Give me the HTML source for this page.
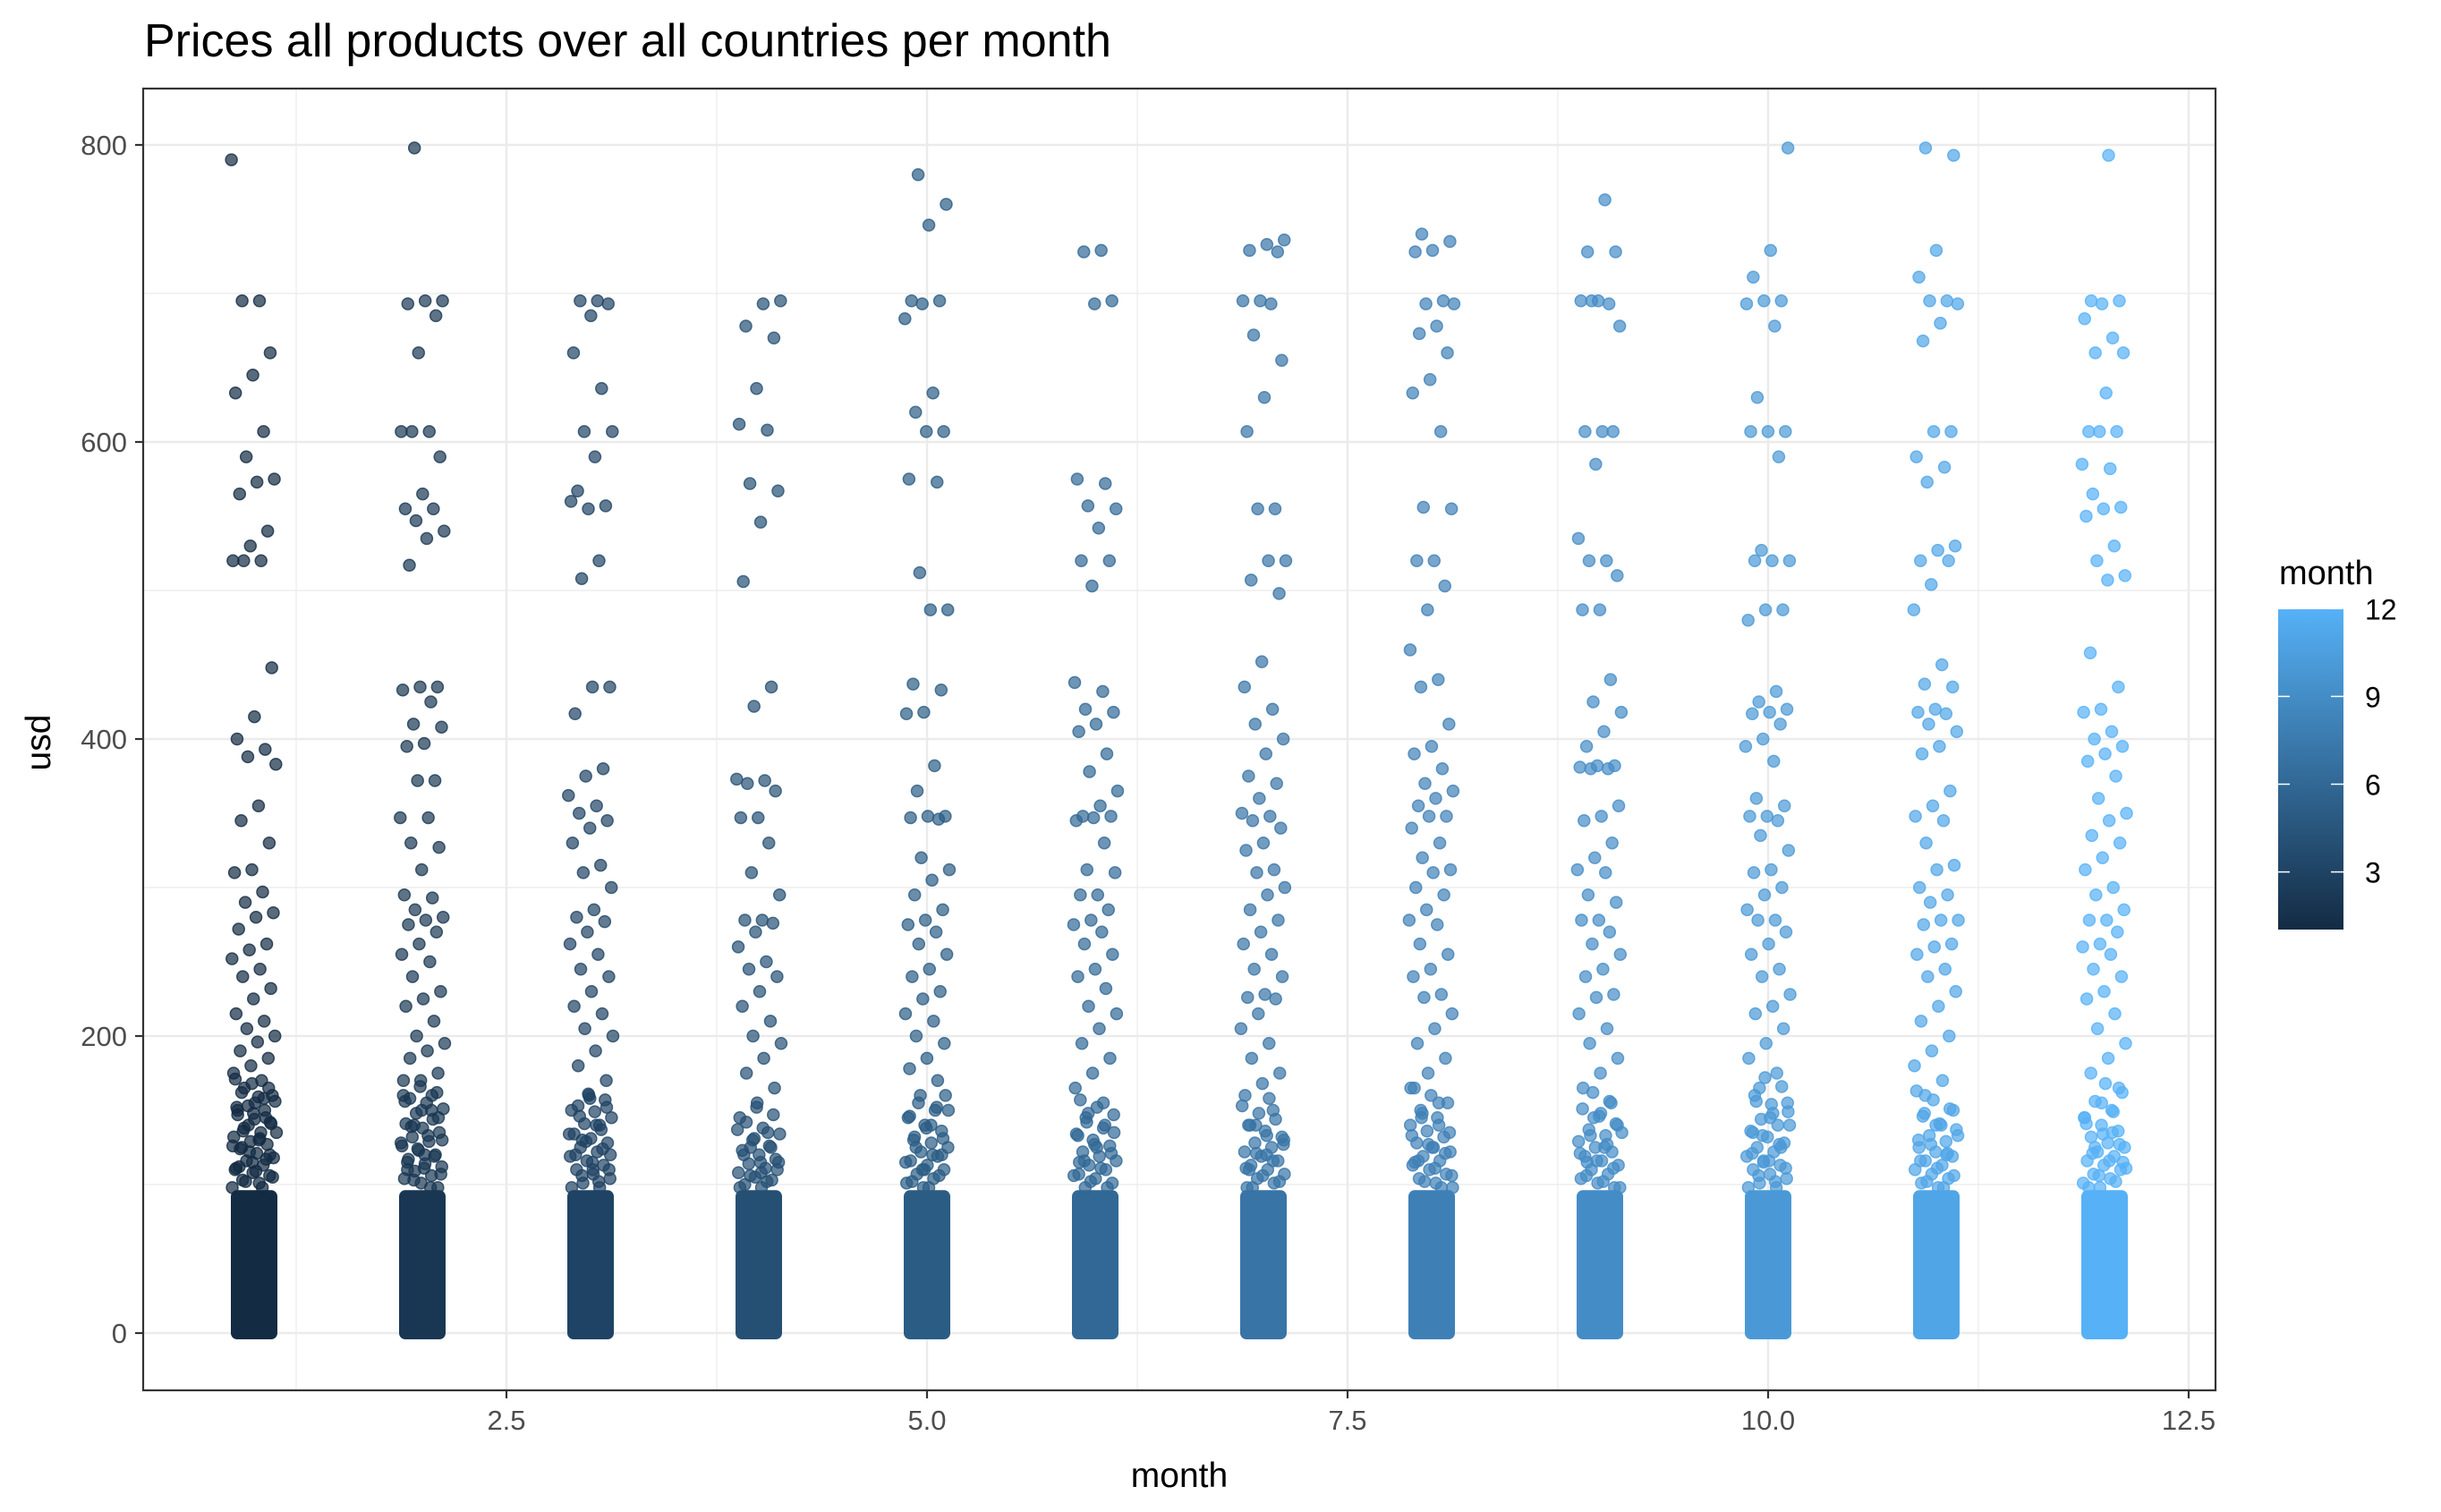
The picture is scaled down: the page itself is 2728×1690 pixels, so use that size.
<!DOCTYPE html>
<html><head><meta charset="utf-8"><style>
html,body{margin:0;padding:0;background:#fff;}
svg{display:block;font-family:"Liberation Sans",Arial,sans-serif;}
</style></head><body>
<svg id="chart" width="2728" height="1690" viewBox="0 0 2728 1690" xmlns="http://www.w3.org/2000/svg">
<text x="161" y="63" font-size="52" fill="#000">Prices all products over all countries per month</text>
<g id="grid"></g>
<g id="points"></g>
<rect x="160" y="99" width="2316" height="1455" fill="none" stroke="#333" stroke-width="2.2"/>
<g id="axes"></g>
<text x="1318" y="1662" font-size="39" text-anchor="middle" fill="#000">month</text>
<text transform="translate(56,830) rotate(-90)" font-size="39" text-anchor="middle" fill="#000">usd</text>
<g id="legend">
<text x="2547" y="653" font-size="38" fill="#000">month</text>
<defs><linearGradient id="lg" x1="0" y1="1" x2="0" y2="0"><stop offset="0" stop-color="#132B43"/><stop offset="1" stop-color="#56B1F7"/></linearGradient></defs>
<rect x="2546" y="681" width="73" height="358" fill="url(#lg)"/>
</g>
</svg>
<script>
const months=[1,2,3,4,5,6,7,8,9,10,11,12];
const bulkTop=[92,92,92,92,92,92,92,92,92,92,92,92];
const m1=[790,695,695,660,645,633,607,590,575,573,565,540,530,520,520,520,448,415,400,393,388,383,355,345,330,312,310,297,290,283,280,272,262,258,252,245,240,232,225,215,210,205,200,196,190,185,180,175,170,165,160,155,150,145,140,135,130,125,120,115,110];
const m2=[798,695,695,693,685,660,607,607,607,590,565,555,555,547,540,535,517,435,435,433,425,410,408,397,395,372,372,347,347,330,327,312,295,293,285,280,278,275,270,262,255,250,240,230,225,220,210,200,195,190,185,175,170,160,150,140,130,120,110];
const m3=[695,695,693,685,660,636,607,607,590,567,557,555,560,520,508,435,435,417,380,375,362,355,350,345,340,330,315,310,300,285,280,277,270,262,255,245,240,230,220,215,205,200,190,180,170,160,150,140,130,120,110];
const m4=[695,693,678,670,636,612,608,572,567,546,506,435,422,373,372,370,365,347,347,330,310,295,278,278,276,270,260,250,245,240,230,220,210,200,195,185,175,165,155,145,135,125,115,108];
const m5=[780,760,746,695,695,693,683,633,620,607,607,575,573,512,487,487,437,433,418,417,382,365,348,348,347,346,320,312,305,295,285,278,275,270,262,255,245,240,230,225,215,210,200,195,185,178,170,160,150,140,130,120,110];
const m6=[729,728,695,693,575,572,557,555,542,520,520,503,438,432,420,418,410,405,390,378,365,355,348,348,347,345,330,312,310,295,295,285,278,275,270,262,255,245,240,232,220,215,205,195,185,175,165,155,145,135,125,115];
const m7=[736,733,729,728,695,695,693,672,655,630,607,555,555,520,520,507,498,452,435,420,410,400,390,375,370,360,350,348,345,340,330,325,312,310,300,295,285,278,270,262,255,245,240,228,226,225,215,205,195,185,175,168,160,150,140,130,120,110];
const m8=[740,735,729,728,695,693,693,678,673,660,642,633,607,556,555,520,520,503,487,460,440,435,410,395,390,380,370,365,360,355,348,348,340,330,320,312,310,300,295,285,278,275,262,255,245,240,228,226,215,205,195,185,175,165,155,145,135,125,115];
const m9=[763,728,728,695,695,693,695,678,607,607,607,585,535,520,520,510,487,487,440,425,418,405,395,382,382,381,380,380,355,348,345,330,320,312,310,295,290,278,278,270,262,255,245,240,228,226,215,205,195,185,175,165,155,145,135,125,115];
const m10=[798,729,711,695,695,693,678,630,607,607,607,590,527,520,520,520,487,487,480,432,425,420,418,417,410,400,395,385,360,355,348,348,345,335,325,312,310,300,295,285,278,278,270,262,255,245,240,228,220,215,205,195,185,175,165,155,145,135,125,115];
const m11=[798,793,729,711,695,695,693,680,668,607,607,590,583,573,530,527,520,520,504,487,450,437,435,420,418,417,410,405,395,390,365,355,348,345,330,315,312,300,295,290,278,278,275,262,260,255,245,240,230,220,210,200,190,180,170,160,150,140,130,120];
const m12=[793,695,695,693,683,670,660,660,633,607,607,607,585,582,565,556,555,550,530,520,510,507,458,435,420,418,405,400,395,390,385,375,360,350,345,335,330,320,312,300,295,285,278,278,270,262,260,255,245,240,230,225,215,205,195,185,175,165,155,145,135,125,115];
const dense1=[98,101,103,106,108,111,113,116,118,121,124,127,129,132,135,138,141,144,147,150,153,156,159,162,165,168,171,98,102,105,109,112,117,122,126,131,136,142,148,152,158];
const dense2=[98,101,104,106,109,112,114,117,120,123,126,129,132,135,138,141,144,148,151,155,158,162,166,170,98,103,107,111,115,119,124,128,133,139,145,150,156,160];
const dense3=[98,101,104,107,110,113,116,119,122,125,128,131,134,137,141,145,149,153,157,161,98,102,106,110,115,120,124,129,134,140,146,152,158];
const dense4=[98,100,103,105,108,111,114,117,120,123,126,130,134,138,142,147,152,98,102,106,110,115,120,125,131,137];
const dense5=[98,101,104,107,110,113,116,119,122,125,128,132,136,140,145,150,155,160,98,102,106,110,115,120,125,131,138,146,152];
const dense6=[98,101,104,107,110,113,116,119,122,126,130,134,138,142,147,152,157,98,102,106,111,116,121,127,133,140,148];
const dense7=[98,101,104,107,110,113,116,119,122,125,128,132,136,140,144,148,153,158,98,102,106,111,116,121,127,133,140];
const dense8=[98,101,104,107,110,113,116,119,122,125,128,132,136,140,145,150,155,160,165,98,102,106,111,116,121,127,133,140,148];
const dense9=[98,101,104,107,110,113,116,119,122,125,129,133,137,141,146,151,156,162,98,102,106,111,116,121,127,133,140,148];
const dense10=[98,101,104,107,110,113,116,119,122,125,128,132,136,140,144,149,154,160,166,172,98,102,106,111,116,121,127,133,140,148,156];
const dense11=[98,101,104,107,110,113,116,119,122,125,129,133,137,141,146,151,157,163,98,102,106,111,116,121,127,133,140,148];
const dense12=[98,101,104,107,110,113,116,119,122,125,128,132,136,140,145,150,156,162,168,98,102,106,111,116,121,127,134,141,149];
const series=[m1,m2,m3,m4,m5,m6,m7,m8,m9,m10,m11,m12];
const denseSeries=[dense1,dense2,dense3,dense4,dense5,dense6,dense7,dense8,dense9,dense10,dense11,dense12];
const yTicks=[0,200,400,600,800];
const yMinor=[100,300,500,700];
const xTicks=[2.5,5.0,7.5,10.0,12.5];
const xTickLabels=["2.5","5.0","7.5","10.0","12.5"];
const xMinor=[1.25,3.75,6.25,8.75,11.25];
const legendTicks=[3,6,9,12];

const NS="http://www.w3.org/2000/svg";
const xS=v=>566+(v-2.5)*188;
const yS=v=>1490-v*1.66;
const lS=v=>1040-(v-1)*32.7;
function mk(tag,attrs,parent){const e=document.createElementNS(NS,tag);for(const k in attrs)e.setAttribute(k,attrs[k]);parent.appendChild(e);return e;}
function col(m){const t=(m-1)/11;const a=[0x13,0x2B,0x43],b=[0x56,0xB1,0xF7];return "rgb("+a.map((c,i)=>Math.round(c+(b[i]-c)*t)).join(",")+")";}
const grid=document.getElementById('grid');
yMinor.forEach(v=>{const l=mk('line',{x1:160,x2:2476,y1:yS(v),y2:yS(v),stroke:'#EBEBEB','stroke-width':1.2},grid);

});
xMinor.forEach(v=>{const l=mk('line',{x1:xS(v),x2:xS(v),y1:99,y2:1554,stroke:'#EBEBEB','stroke-width':1.2},grid);

});
yTicks.forEach(v=>{const l=mk('line',{x1:160,x2:2476,y1:yS(v),y2:yS(v),stroke:'#EBEBEB','stroke-width':2.5},grid);

});
xTicks.forEach(v=>{const l=mk('line',{x1:xS(v),x2:xS(v),y1:99,y2:1554,stroke:'#EBEBEB','stroke-width':2.5},grid);

});
const pts=document.getElementById('points');
months.forEach((m,mi)=>{
  const c=col(m);const g=mk('g',{fill:c,'fill-opacity':0.7,stroke:c,'stroke-opacity':0.8,'stroke-width':1.5},pts);
  
  
  const b=mk('rect',{x:xS(m)-26,y:yS(bulkTop[mi])-7,width:52,height:yS(0)-yS(bulkTop[mi])+14,rx:7,fill:c,'fill-opacity':1,stroke:'none'},g);
  
  
  denseSeries[mi].forEach((v,i)=>{
    const j=(((i+mi*3)*0.618034)%1-0.5)*0.26;
    const p=mk('circle',{cx:xS(m+j),cy:yS(v),r:6.5},g);
    
    
  });
  series[mi].forEach((v,i)=>{
    const j=(((i+mi*7)*0.618034)%1-0.5)*0.27;
    const p=mk('circle',{cx:xS(m+j),cy:yS(v),r:6.5},g);
    
    
  });
});
const ax=document.getElementById('axes');
yTicks.forEach(v=>{
  const t=mk('line',{x1:151,x2:160,y1:yS(v),y2:yS(v),stroke:'#333','stroke-width':2.2},ax);
  
  
  const l=mk('text',{x:142,y:yS(v)+11,'font-size':31,'text-anchor':'end',fill:'#4D4D4D'},ax);l.textContent=v;
  
  
});
xTicks.forEach((v,i)=>{
  const t=mk('line',{x1:xS(v),x2:xS(v),y1:1554,y2:1563,stroke:'#333','stroke-width':2.2},ax);
  
  
  const l=mk('text',{x:xS(v),y:1598,'font-size':31,'text-anchor':'middle',fill:'#4D4D4D'},ax);l.textContent=xTickLabels[i];
  
  
});
const lg=document.getElementById('legend');
legendTicks.forEach(v=>{
  const a=mk('line',{x1:2546,x2:2559,y1:lS(v),y2:lS(v),stroke:'#fff','stroke-width':1.5},lg);
  
  
  const b=mk('line',{x1:2605,x2:2619,y1:lS(v),y2:lS(v),stroke:'#fff','stroke-width':1.5},lg);
  
  
  const l=mk('text',{x:2643,y:lS(v)+12,'font-size':32,fill:'#000'},lg);l.textContent=v;
  
  
});
</script>
</body></html>
